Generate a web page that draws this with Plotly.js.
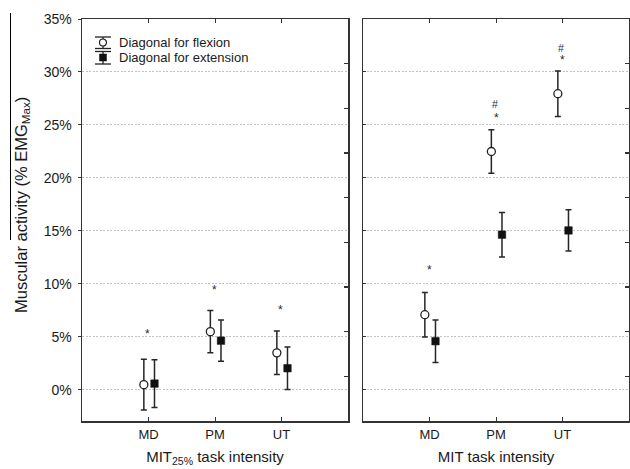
<!DOCTYPE html>
<html>
<head>
<meta charset="utf-8">
<script src="https://cdn.plot.ly/plotly-3.0.1.min.js"></script>
<style>html,body{margin:0;padding:0;background:#fff;}#chart{width:630px;height:469px;}</style>
</head>
<body>
<div id="chart"></div>
<script>
// ---- data ----
var categories = ['MD', 'PM', 'UT'];
var yTickVals = [0, 5, 10, 15, 20, 25, 30, 35];
var yTickText = ['0%', '5%', '10%', '15%', '20%', '25%', '30%', '35%'];

// MIT25% task intensity panel
var flexion25 = [0.5, 5.5, 3.5];
var flexionErr25 = [2.4, 2.0, 2.05];
var extension25 = [0.6, 4.65, 2.05];
var extensionErr25 = [2.25, 1.95, 2.0];
var star25 = [5.6, 9.75, 7.8];

// MIT task intensity panel
var flexionMIT = [7.1, 22.5, 27.95];
var flexionErrMIT = [2.1, 2.05, 2.15];
var extensionMIT = [4.6, 14.65, 15.05];
var extensionErrMIT = [2.0, 2.1, 1.95];
var starMIT = [11.6, 25.9, 31.4];
var hashMIT = [null, 27.0, 32.3];

var legendNames = ['Diagonal for flexion', 'Diagonal for extension'];

// ---- layout helpers ----
var W = 630, H = 469, ML = 82, MR = 1, MT = 19, MB = 48;
var PW = W - ML - MR, PH = H - MT - MB;
function PX(px) { return (px - ML) / PW; }
function PY(py) { return (H - MB - py) / PH; }

var flexOff = -0.07, extOff = 0.09;
function pos(off) { return categories.map(function (c, i) { return i + off; }); }

var ink = '#1a1a1a';
var errStyle = function (arr) { return { type: 'data', array: arr, visible: true, color: '#262626', thickness: 1.5, width: 3 }; };

function flexTrace(y, err, xa, ya) {
  return { x: pos(flexOff), y: y, xaxis: xa, yaxis: ya, type: 'scatter', mode: 'markers',
    marker: { symbol: 'circle', size: 8, color: '#fff', line: { color: '#222', width: 1.3 } },
    error_y: errStyle(err), showlegend: false, hoverinfo: 'y' };
}
function extTrace(y, err, xa, ya) {
  return { x: pos(extOff), y: y, xaxis: xa, yaxis: ya, type: 'scatter', mode: 'markers',
    marker: { symbol: 'square', size: 7.5, color: '#111', line: { color: '#111', width: 0.5 } },
    error_y: errStyle(err), showlegend: false, hoverinfo: 'y' };
}
// empty carrier traces so the right-hand tick axes get drawn
function carrier(xa, ya) { return { x: [null], y: [null], xaxis: xa, yaxis: ya, type: 'scatter', mode: 'markers', showlegend: false, hoverinfo: 'skip' }; }

var data = [
  flexTrace(flexion25, flexionErr25, 'x', 'y'),
  extTrace(extension25, extensionErr25, 'x', 'y'),
  flexTrace(flexionMIT, flexionErrMIT, 'x2', 'y2'),
  extTrace(extensionMIT, extensionErrMIT, 'x2', 'y2'),
  carrier('x', 'y3'),
  carrier('x2', 'y4')
];

var font = { family: 'Liberation Sans, Arial, sans-serif', color: ink };
var yRange = [-2.93, 35];

function xAxis(domain, anchor, title) {
  return { domain: domain, anchor: anchor, range: [-1, 3], tickvals: [0, 1, 2], ticktext: categories,
    ticks: 'inside', ticklen: 4, tickwidth: 1, tickcolor: '#333', mirror: 'ticks',
    showline: true, linecolor: '#333', linewidth: 1.5, showgrid: false, zeroline: false,
    tickfont: { size: 13, color: ink }, ticklabelstandoff: 1,
    title: { text: title, font: { size: 15, color: ink }, standoff: 10 }, fixedrange: true };
}
function yAxis(anchor, labels, tickdir) {
  return { domain: [0, 1], anchor: anchor, range: yRange, tickvals: yTickVals, ticktext: yTickText,
    showticklabels: labels, ticks: tickdir, ticklen: 3, tickcolor: '#333',
    showline: true, linecolor: '#333', linewidth: 1.5, mirror: true,
    showgrid: true, gridcolor: '#c2c2c2', griddash: '2px,1.5px', gridwidth: 1, zeroline: false,
    tickfont: { size: 14, color: ink }, ticklabelstandoff: 3, fixedrange: true };
}
function yRightTicks(over, anchor) {
  return { overlaying: over, anchor: anchor, side: 'right', range: [0, 9], dtick: 1, tick0: 0,
    ticks: 'inside', ticklen: 4, tickcolor: '#333', tickwidth: 1.2, showticklabels: false,
    showgrid: false, zeroline: false, showline: false, fixedrange: true };
}

var dL = [0, PX(348)], dR = [PX(363), 1];

var shapes = [], annotations = [];
// star / hash significance marks, placed from the arrays
function marks(vals, txt, xref, yref, off, shift, size) {
  vals.forEach(function (v, i) {
    if (v === null) return;
    annotations.push({ xref: xref, yref: yref, x: i + off, y: v, text: txt, showarrow: false,
      xanchor: 'center', yanchor: 'middle', yshift: shift, font: { size: size, color: '#2a2a2a' } });
  });
}
marks(star25, '*', 'x', 'y', -0.01, -3, 12);
marks(starMIT, '*', 'x2', 'y2', 0.0, -3, 12);
marks(hashMIT, '#', 'x2', 'y2', -0.02, 0, 10.5);

// legend icons (decoration)
var LC = 103;
function hline(x0, x1, y, w) { shapes.push({ type: 'line', xref: 'paper', yref: 'paper', x0: PX(x0), x1: PX(x1), y0: PY(y), y1: PY(y), line: { color: '#222', width: w || 1.3 } }); }
function vline(x, y0, y1) { shapes.push({ type: 'line', xref: 'paper', yref: 'paper', x0: PX(x), x1: PX(x), y0: PY(y0), y1: PY(y1), line: { color: '#222', width: 1.3 } }); }
vline(LC, 37, 48.5); hline(LC - 8, LC + 8, 37); hline(LC - 8, LC + 8, 48.5);
shapes.push({ type: 'circle', xref: 'paper', yref: 'paper', x0: PX(LC - 3.5), x1: PX(LC + 3.5), y0: PY(39), y1: PY(46), fillcolor: '#fff', line: { color: '#222', width: 1.2 } });
vline(LC, 51.5, 64); hline(LC - 8, LC + 8, 51.5); hline(LC - 8, LC + 8, 64);
shapes.push({ type: 'rect', xref: 'paper', yref: 'paper', x0: PX(LC - 3.5), x1: PX(LC + 3.5), y0: PY(54), y1: PY(61), fillcolor: '#111', line: { color: '#111', width: 0.5 } });
annotations.push({ xref: 'paper', yref: 'paper', x: PX(117), y: PY(42.5), xanchor: 'left', yanchor: 'middle', showarrow: false, text: legendNames[0], font: { size: 13, color: ink } });
annotations.push({ xref: 'paper', yref: 'paper', x: PX(117), y: PY(57.5), xanchor: 'left', yanchor: 'middle', showarrow: false, text: legendNames[1], font: { size: 13, color: ink } });
// y-axis title
annotations.push({ xref: 'paper', yref: 'paper', x: PX(22), y: PY(205), xanchor: 'center', yanchor: 'middle', textangle: -90, showarrow: false,
  text: 'Muscular activity (% EMG<sub>Max</sub>)', font: { size: 16.5, color: ink } });
// scan edge artifact at the left of the picture
shapes.push({ type: 'line', xref: 'paper', yref: 'paper', x0: PX(10.5), x1: PX(10.5), y0: PY(13), y1: PY(240), line: { color: '#000', width: 1 } });

var layout = {
  width: W, height: H, margin: { l: ML, r: MR, t: MT, b: MB, pad: 0 },
  paper_bgcolor: '#fff', plot_bgcolor: 'rgba(0,0,0,0)', font: font, showlegend: false,
  xaxis: xAxis(dL, 'y', 'MIT<sub>25%</sub> task intensity'),
  yaxis: yAxis('x', true, 'outside'),
  yaxis3: yRightTicks('y', 'x'),
  xaxis2: xAxis(dR, 'y2', 'MIT task intensity'),
  yaxis2: yAxis('x2', false, 'inside'),
  yaxis4: yRightTicks('y2', 'x2'),
  shapes: shapes, annotations: annotations
};

Plotly.newPlot('chart', data, layout, { displayModeBar: false, staticPlot: true });
</script>
</body>
</html>
